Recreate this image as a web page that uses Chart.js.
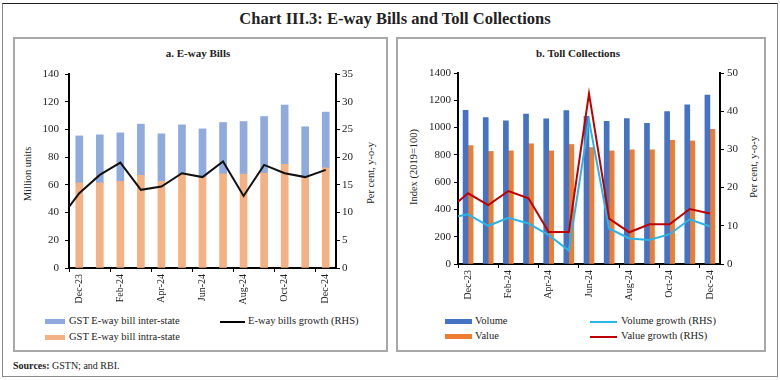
<!DOCTYPE html>
<html><head><meta charset="utf-8">
<script src="https://cdn.jsdelivr.net/npm/chart.js@4.4.1/dist/chart.umd.min.js"></script>
<style>
body{margin:0;width:780px;height:380px;background:#fff;font-family:"Liberation Serif",serif;color:#222;position:relative;overflow:hidden}
.abs{position:absolute}
#frame{left:2px;top:3px;width:776px;height:374px;border:1px solid #8a8a8a;border-top:1.5px solid #222;box-sizing:border-box}
.panel{border:2px solid #a8a8a8;box-sizing:border-box}
.title{font-weight:bold;font-size:16.5px;text-align:center;white-space:nowrap}
.sub{font-weight:bold;font-size:11px;text-align:center;white-space:nowrap}
.rot{font-size:10.5px;white-space:nowrap;transform:translate(-50%,-50%) rotate(-90deg);transform-origin:center}
.lg{font-size:10.5px;line-height:12px;white-space:nowrap}
canvas{position:absolute}
</style></head>
<body>
<div id="frame" class="abs"></div>
<div class="abs title" style="left:0;width:790px;top:9px">Chart III.3: E-way Bills and Toll Collections</div>
<div class="abs panel" style="left:13px;top:37px;width:375px;height:315px"></div>
<div class="abs panel" style="left:396px;top:37px;width:370px;height:315px"></div>
<div class="abs sub" style="left:98px;width:200px;top:47px">a. E-way Bills</div>
<div class="abs sub" style="left:478px;width:200px;top:47px">b. Toll Collections</div>
<div class="abs rot" style="left:27px;top:174px">Million units</div>
<div class="abs rot" style="left:370px;top:173px">Per cent, y-o-y</div>
<div class="abs rot" style="left:413px;top:167px">Index (2019=100)</div>
<div class="abs rot" style="left:753px;top:167px">Per cent, y-o-y</div>

<canvas id="c1" width="372" height="250" style="left:14px;top:60px"></canvas>
<canvas id="c2" width="372" height="250" style="left:397px;top:60px"></canvas>

<!-- legends -->
<div class="abs" style="left:45px;top:319px;width:20px;height:5px;background:#8FAADC"></div>
<div class="abs lg" style="left:69px;top:315px">GST E-way bill inter-state</div>
<div class="abs" style="left:45px;top:335px;width:20px;height:5px;background:#F4B183"></div>
<div class="abs lg" style="left:69px;top:331px">GST E-way bill intra-state</div>
<div class="abs" style="left:220px;top:321px;width:25px;height:1.5px;background:#000"></div>
<div class="abs lg" style="left:248px;top:315px">E-way bills growth (RHS)</div>

<div class="abs" style="left:445px;top:319px;width:27px;height:5px;background:#4472C4"></div>
<div class="abs lg" style="left:475px;top:315px">Volume</div>
<div class="abs" style="left:445px;top:334px;width:27px;height:5px;background:#ED7D31"></div>
<div class="abs lg" style="left:475px;top:330px">Value</div>
<div class="abs" style="left:590px;top:321px;width:27px;height:1.5px;background:#29B5E8"></div>
<div class="abs lg" style="left:621px;top:315px">Volume growth (RHS)</div>
<div class="abs" style="left:590px;top:336px;width:27px;height:1.5px;background:#C00000"></div>
<div class="abs lg" style="left:621px;top:330px">Value growth (RHS)</div>

<div class="abs lg" style="left:13px;top:360px;font-size:10px"><b>Sources:</b> GSTN; and RBI.</div>

<script>
// ---- data ----
const months = ['Dec-23','Jan-24','Feb-24','Mar-24','Apr-24','May-24','Jun-24','Jul-24','Aug-24','Sep-24','Oct-24','Nov-24','Dec-24'];
const interState = [33.8,34.6,35.0,36.9,34.3,35.7,35.0,37.0,37.9,40.8,42.8,35.9,40.2];
const intraState = [61.5,61.5,62.5,66.9,62.5,67.6,65.4,68.0,67.8,68.5,74.8,66.0,72.3];
const ewayGrowthStart = 11.0; // value shown at the start of the axis
const ewayGrowth = [13.5,16.8,19.0,14.1,14.7,17.1,16.4,19.2,13.0,18.6,17.1,16.4,17.7];

const tollVolume = [1127,1073,1049,1098,1064,1125,1083,1046,1066,1032,1117,1166,1239];
const tollValue = [868,825,829,881,829,876,854,829,837,837,907,902,988];
const volumeGrowthStart = 12.5;
const volumeGrowth = [13.0,10.0,12.1,10.6,7.6,3.5,37.6,9.3,6.7,6.3,7.8,11.7,9.8];
const valueGrowthStart = 16.3;
const valueGrowth = [18.5,15.4,19.1,17.2,8.4,8.4,44.6,11.9,8.3,10.4,10.4,14.4,13.2];

const leftTicks = [0,20,40,60,80,100,120,140];
const leftRhsTicks = [0,5,10,15,20,25,30,35];
const rightTicks = [0,200,400,600,800,1000,1200,1400];
const rightRhsTicks = [0,10,20,30,40,50];

// ---- helpers ----
function linePoints(start, arr){
  return [{x:-0.5,y:start}].concat(arr.map((v,i)=>({x:i,y:v})));
}
const FONT = {family:'"Liberation Serif", serif', size:10};
const YFONT = {family:'"Liberation Serif", serif', size:11};
const TC = '#222';
function xAxis(h, stacked){
  return {
    type:'category', offset:true, stacked:stacked,
    grid:{offset:true, drawOnChartArea:false, drawTicks:true, tickLength:4,
      color:ctx => (ctx.index!==undefined && ctx.index%2===0) ? '#000' : 'rgba(0,0,0,0)'},
    border:{display:true,color:'#000',width:2},
    ticks:{autoSkip:false,minRotation:90,maxRotation:90,padding:2,color:TC,font:FONT,
      callback:(v,i)=> i%2===0 ? months[i] : ''},
    afterFit:s=>{s.height=h;}
  };
}
function yAxis(pos, min, max, step, w, pad, ticksArr, stacked){
  return {
    type:'linear', position:pos, min:min, max:max, stacked:!!stacked,
    grid:{drawOnChartArea:false, drawTicks:true, tickLength:4, color:'#000'},
    border:{display:true,color:'#000',width:2},
    ticks:{stepSize:step,padding:pad,color:TC,font:YFONT, callback:v=> ticksArr.includes(v)? String(v):''},
    afterFit:s=>{s.width=w;}
  };
}
function x2(){ return {type:'linear', display:false, offset:false, grid:{offset:false}, min:-0.5, max:months.length-0.5}; }

new Chart(document.getElementById('c1'), {
  type:'bar',
  data:{labels:months, datasets:[
    {type:'line', label:'E-way bills growth (RHS)', data:linePoints(ewayGrowthStart, ewayGrowth), xAxisID:'x2', yAxisID:'y1',
      borderColor:'#111', borderWidth:2, pointRadius:0, tension:0, order:0},
    {label:'GST E-way bill intra-state', data:intraState, backgroundColor:'#F4B183', stack:'s', order:1,
      grouped:false, barThickness:7},
    {label:'GST E-way bill inter-state', data:interState, backgroundColor:'#8FAADC', stack:'s', order:1,
      grouped:false, barThickness:7}
  ]},
  options:{responsive:false, animation:false, events:[],
    layout:{padding:{top:14,left:0,right:0,bottom:0}},
    plugins:{legend:{display:false},tooltip:{enabled:false}},
    scales:{
      x:xAxis(42,true), x2:x2(),
      y:yAxis('left',0,140,20,55,6,leftTicks,true),
      y1:yAxis('right',0,35,5,50,2,leftRhsTicks,false)
    }}
});

new Chart(document.getElementById('c2'), {
  type:'bar',
  data:{labels:months, datasets:[
    {type:'line', label:'Value growth (RHS)', data:linePoints(valueGrowthStart, valueGrowth), xAxisID:'x2', yAxisID:'y1',
      borderColor:'#C00000', borderWidth:2, pointRadius:0, tension:0, order:0},
    {type:'line', label:'Volume growth (RHS)', data:linePoints(volumeGrowthStart, volumeGrowth), xAxisID:'x2', yAxisID:'y1',
      borderColor:'#29B5E8', borderWidth:2, pointRadius:0, tension:0, order:0},
    {label:'Volume', data:tollVolume, backgroundColor:'#4472C4', order:1, barThickness:5},
    {label:'Value', data:tollValue, backgroundColor:'#ED7D31', order:1, barThickness:5}
  ]},
  options:{responsive:false, animation:false, events:[],
    layout:{padding:{top:13,left:0,right:0,bottom:0}},
    plugins:{legend:{display:false},tooltip:{enabled:false}},
    scales:{
      x:xAxis(46,false), x2:x2(),
      y:yAxis('left',0,1400,200,61,3,rightTicks,false),
      y1:yAxis('right',0,50,10,49,3,rightRhsTicks,false)
    }}
});
</script>
</body></html>
